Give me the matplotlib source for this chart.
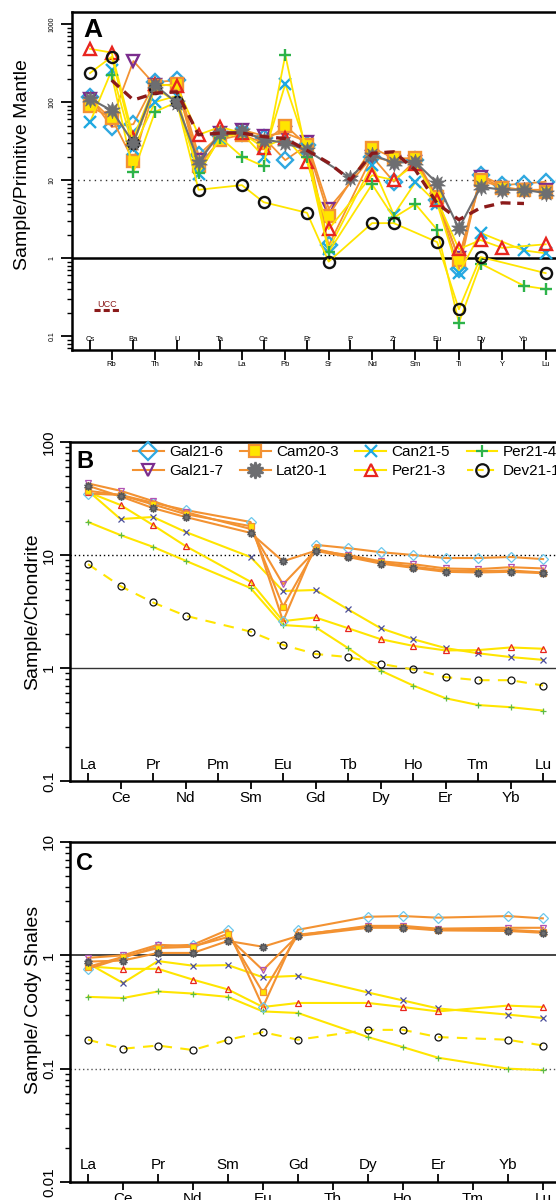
import numpy as np
import matplotlib.pyplot as plt
from matplotlib.lines import Line2D
from matplotlib.ticker import LogLocator, NullFormatter, FuncFormatter

plt.rcParams['font.family'] = ['Liberation Sans', 'DejaVu Sans']

nan = np.nan

# ---- A: primitive mantle normalised ----
pm_elements = ['Cs', 'Rb', 'Ba', 'Th', 'U', 'Nb', 'Ta', 'La', 'Ce', 'Pb', 'Pr',
               'Sr', 'P', 'Nd', 'Zr', 'Sm', 'Eu', 'Ti', 'Dy', 'Y', 'Yb', 'Lu']
pm_gal21_6 = [115, 48, 52, 180, 190, 21, 38, 40, 35, 18, 28, 1.45, nan, 20, 9.5, 18, 5.5, 0.72, 11.5, 8.6, 9.0, 9.5]
pm_gal21_7 = [110, 60, 335, 165, 165, 18, 40, 44, 37, 40, 31, 4.3, nan, 20, 17, 17, 5.5, 1.0, 11, 8, 7.5, 7.5]
pm_cam20_3 = [88, 62, 17.5, 160, 170, 15, 33, 38, 30, 50, 28, 3.5, nan, 26, 19, 19, 6, 0.95, 10, 8, 7.5, 7.0]
pm_lat20_1 = [110, 78, 30, 165, 97, 17, 40, 42, 33, 30, 24, nan, 10.6, 21, 16.7, 17, 9.1, 2.4, 8.2, 7.5, 7.5, 6.8]
pm_can21_5 = [55, 255, 25, 100, 120, 12, 35, 40, 20, 170, 25, 1.3, nan, 15.6, 3.6, 9.4, 5.0, 0.64, 2.1, nan, 1.25, 1.15]
pm_per21_3 = [480, 430, 35, 170, 160, 38, 48, 40, 26, 35, 17, 2.35, nan, 11.5, 10, 16, 5.5, 1.3, 1.7, 1.35, nan, 1.5]
pm_per21_4 = [nan, 220, 12.6, 75, 100, 12.3, 35, 20, 15, 400, 20, 1.2, nan, 8.8, 3.3, 4.9, 2.3, 0.148, 0.85, nan, 0.44, 0.40]
pm_dev21_1 = [235, 380, 30, 150, 100, 7.5, nan, 8.6, 5.2, nan, 3.8, 0.9, nan, 2.8, 2.8, nan, 1.6, 0.22, 1.03, nan, nan, 0.64]
pm_ucc = [nan, 190, 106, 130, 135, 38, 40, 40, 36, 34, 24, 16.6, 10, 22, 23, 13.4, 5.0, 3.1, 4.4, 5.1, 5.0, nan]

# ---- B: chondrite normalised ----
chon_elements = ['La', 'Ce', 'Pr', 'Nd', 'Pm', 'Sm', 'Eu', 'Gd', 'Tb', 'Dy', 'Ho', 'Er', 'Tm', 'Yb', 'Lu']
chon_gal21_6 = [35, 34, 29, 25, nan, 19.6, 2.6, 12.3, 11.5, 10.6, 10, 9.4, 9.4, 9.6, 9.2]
chon_gal21_7 = [43, 37, 30, 24, nan, 17, 5.5, 11, 10, 8.8, 8.3, 7.6, 7.5, 7.8, 7.6]
chon_cam20_3 = [37, 34, 28, 23, nan, 18, 3.5, 11.3, 9.8, 8.6, 7.9, 7.3, 7.2, 7.3, 7.0]
chon_lat20_1 = [41, 33, 26, 21.7, nan, 15.7, 8.8, 10.9, 9.6, 8.4, 7.7, 7.1, 7.0, 7.1, 6.9]
chon_can21_5 = [37, 20.8, 21.7, 16, nan, 9.6, 4.8, 4.9, 3.3, 2.25, 1.8, 1.5, 1.35, 1.25, 1.18]
chon_per21_3 = [36, 27.7, 18.4, 12, nan, 5.8, 2.6, 2.8, 2.25, 1.8, 1.57, 1.43, 1.44, 1.52, 1.48]
chon_per21_4 = [19.6, 15, 11.8, 8.9, nan, 5.1, 2.4, 2.3, 1.5, 0.95, 0.70, 0.54, 0.47, 0.45, 0.42]
chon_dev21_1 = [8.3, 5.3, 3.8, 2.9, nan, 2.1, 1.6, 1.33, 1.25, 1.09, 0.97, 0.83, 0.78, 0.78, 0.70]

# ---- C: Cody shale normalised ----
shale_elements = ['La', 'Ce', 'Pr', 'Nd', 'Sm', 'Eu', 'Gd', 'Tb', 'Dy', 'Ho', 'Er', 'Tm', 'Yb', 'Lu']
shale_gal21_6 = [0.76, 0.95, 1.2, 1.24, 1.68, 0.35, 1.68, nan, 2.19, 2.22, 2.15, nan, 2.22, 2.12]
shale_gal21_7 = [0.95, 1.0, 1.24, 1.2, 1.45, 0.74, 1.5, nan, 1.82, 1.82, 1.72, nan, 1.75, 1.75]
shale_cam20_3 = [0.79, 0.97, 1.16, 1.19, 1.55, 0.47, 1.52, nan, 1.78, 1.78, 1.68, nan, 1.68, 1.62]
shale_lat20_1 = [0.88, 0.9, 1.05, 1.05, 1.34, 1.19, 1.48, nan, 1.75, 1.75, 1.66, nan, 1.64, 1.58]
shale_can21_5 = [0.85, 0.57, 0.89, 0.81, 0.82, 0.64, 0.66, nan, 0.47, 0.40, 0.34, nan, 0.30, 0.28]
shale_per21_3 = [0.8, 0.76, 0.76, 0.61, 0.50, 0.35, 0.38, nan, 0.38, 0.35, 0.32, nan, 0.36, 0.35]
shale_per21_4 = [0.43, 0.42, 0.48, 0.46, 0.43, 0.32, 0.31, nan, 0.19, 0.155, 0.125, nan, 0.10, 0.097]
shale_dev21_1 = [0.18, 0.15, 0.16, 0.146, 0.18, 0.21, 0.18, nan, 0.22, 0.22, 0.19, nan, 0.18, 0.16]

samples = ['Gal21-6', 'Gal21-7', 'Cam20-3', 'Lat20-1', 'Can21-5', 'Per21-3', 'Per21-4', 'Dev21-1']

ORANGE = '#F39232'
YELLOW = '#FFE500'
# marker / line look for each sample: line colour, linestyle, marker, face, edge
style = {
    'Gal21-6': (ORANGE, '-', 'D', 'none', '#2FA8E0'),
    'Gal21-7': (ORANGE, '-', 'v', 'none', '#7B2D8E'),
    'Cam20-3': (ORANGE, '-', 's', '#FFE500', '#F39232'),
    'Lat20-1': (ORANGE, '-', (10, 1, 0), '#6D6E71', '#6D6E71'),
    'Can21-5': (YELLOW, '-', 'x', 'none', '#1FA9E1'),
    'Per21-3': (YELLOW, '-', '^', 'none', '#E8251F'),
    'Per21-4': (YELLOW, '-', '+', 'none', '#2DB34A'),
    'Dev21-1': (YELLOW, '--', 'o', 'none', '#111111'),
}
small_edge = {'Gal21-6': '#6CC8EC', 'Gal21-7': '#B054B4', 'Can21-5': '#4B4E9A',
              'Lat20-1': '#55565A', 'Per21-4': '#5DBB46'}


def draw(ax, vals, name, ms, mew, lw, ls=None, lcolor=None, z=2):
    y = np.array(vals, dtype=float)
    x = np.arange(len(y))
    ok = ~np.isnan(y)
    col, sls, mk, mfc, mec = style[name]
    ax.plot(x[ok], y[ok], color=lcolor or col, ls=ls or sls, lw=lw, marker=mk,
            ms=ms, mfc=mfc, mec=mec, mew=mew, zorder=z)


def setup(ax, labels, fs, inside_y, tick_len, ylims, yfs, ypad):
    n = len(labels)
    idx = np.arange(n)
    ax.set_yscale('log')
    ax.set_ylim(*ylims)
    ax.set_xticks(idx[1::2])
    ax.set_xticklabels(labels[1::2], fontsize=fs)
    ax.set_xticks(idx[0::2], minor=True)
    ax.tick_params(axis='x', which='major', direction='out', length=tick_len,
                   width=1.3, pad=1)
    ax.tick_params(axis='x', which='minor', direction='in', length=tick_len,
                   width=1.3, labelbottom=False)
    for i in idx[0::2]:
        ax.text(i, inside_y, labels[i], transform=ax.get_xaxis_transform(),
                ha='center', va='bottom', fontsize=fs)
    ax.yaxis.set_major_locator(LogLocator(base=10, numticks=10))
    ax.yaxis.set_major_formatter(FuncFormatter(lambda v, p: f'{v:g}'))
    ax.yaxis.set_minor_locator(LogLocator(base=10, subs=np.arange(2, 10), numticks=20))
    ax.yaxis.set_minor_formatter(NullFormatter())
    ax.tick_params(axis='y', which='major', direction='out', length=tick_len + 1,
                   width=1.3, labelsize=yfs, labelrotation=90, pad=ypad)
    ax.tick_params(axis='y', which='minor', direction='out', length=tick_len * 0.55,
                   width=1.0)
    for lab in ax.get_yticklabels():
        lab.set_va('center')
    for s in ['left', 'bottom', 'top']:
        ax.spines[s].set_linewidth(1.8)
    ax.spines['right'].set_visible(False)


fig = plt.figure(figsize=(5.56, 12), dpi=100)

# ------------------------ panel A ------------------------
ax_a = fig.add_axes([72 / 556, 1 - 350 / 1200, 488 / 556, 338 / 1200])
ax_a.set_xlim(-0.83, 21.66)
ax_a.axhline(10, color='#333333', ls=(0, (1, 3)), lw=1.0, zorder=1)
ax_a.axhline(1, color='black', lw=1.8, zorder=1)
pm_sets = [pm_gal21_6, pm_gal21_7, pm_cam20_3, pm_lat20_1,
           pm_can21_5, pm_per21_3, pm_per21_4, pm_dev21_1]
for name, vals in zip(samples, pm_sets):
    if name == 'Lat20-1':
        continue
    draw(ax_a, vals, name, ms=8, mew=1.7, lw=1.3, ls='-')
draw(ax_a, pm_lat20_1, 'Lat20-1', ms=12, mew=0.5, lw=1.5, ls='-', lcolor='#6D6E71', z=3)
y = np.array(pm_ucc, float)
ok = ~np.isnan(y)
ax_a.plot(np.arange(len(y))[ok], y[ok], color='#8B1A1A', ls=(0, (3, 2)), lw=2.4, zorder=4)
setup(ax_a, pm_elements, 5.5, 0.022, 7, (10 ** -1.179, 10 ** 3.154), 5, 4)
ax_a.plot([0.045, 0.098], [0.117, 0.117], transform=ax_a.transAxes, color='#8B1A1A',
          ls=(0, (2, 1)), lw=2.2)
ax_a.text(0.071, 0.122, 'UCC', transform=ax_a.transAxes, color='#8B1A1A',
          fontsize=6.5, ha='center', va='bottom')
ax_a.text(0.024, 0.982, 'A', transform=ax_a.transAxes, fontsize=19,
          fontweight='bold', va='top', ha='left')
ax_a.set_ylabel('Sample/Primitive Mantle', fontsize=14)
ax_a.yaxis.set_label_coords(-0.085, 0.55)

# ------------------------ panel B ------------------------
ax_b = fig.add_axes([70 / 556, 1 - 781 / 1200, 490 / 556, 339 / 1200])
ax_b.set_xlim(-0.554, 14.52)
ax_b.axhline(10, color='black', ls=(0, (1, 2)), lw=1.0, zorder=1)
ax_b.axhline(1, color='#333333', lw=1.0, zorder=1)
chon_sets = [chon_gal21_6, chon_gal21_7, chon_cam20_3, chon_lat20_1,
             chon_can21_5, chon_per21_3, chon_per21_4, chon_dev21_1]
shale_sets = [shale_gal21_6, shale_gal21_7, shale_cam20_3, shale_lat20_1,
              shale_can21_5, shale_per21_3, shale_per21_4, shale_dev21_1]


def small_panel(ax, sets):
    order = [4, 5, 6, 7, 0, 1, 2, 3]
    for k in order:
        name = samples[k]
        col, sls, mk, mfc, mec = style[name]
        y = np.array(sets[k], float)
        x = np.arange(len(y))
        ok = ~np.isnan(y)
        ax.plot(x[ok], y[ok], color=col, ls=(0, (5, 4)) if sls == '--' else '-',
                lw=1.5, marker=mk, ms=6 if name == 'Lat20-1' else 5,
                mfc=mfc, mec=small_edge.get(name, mec), mew=0.9, zorder=2)


small_panel(ax_b, chon_sets)
setup(ax_b, chon_elements, 11, 0.028, 6, (0.1, 100), 11, 3)
ax_b.text(0.012, 0.976, 'B', transform=ax_b.transAxes, fontsize=17,
          fontweight='bold', va='top', ha='left')
ax_b.set_ylabel('Sample/Chondrite', fontsize=14)
ax_b.yaxis.set_label_coords(-0.058, 0.5)

handles = []
for name in samples:
    col, sls, mk, mfc, mec = style[name]
    handles.append(Line2D([], [], color=col, ls=(0, (3, 2)) if sls == '--' else '-',
                          lw=1.5, marker=mk, ms=12 if name == 'Lat20-1' else 9,
                          mfc=mfc, mec=mec, mew=1.6))
ax_b.legend(handles, samples, loc='upper left', bbox_to_anchor=(0.129, 0.99),
            ncol=4, frameon=False, fontsize=11, handlelength=2.0,
            handletextpad=0.35, columnspacing=1.1, borderpad=0,
            borderaxespad=0, labelspacing=0.3)

# ------------------------ panel C ------------------------
ax_c = fig.add_axes([70 / 556, 1 - 1182 / 1200, 490 / 556, 340 / 1200])
ax_c.set_xlim(-0.514, 13.49)
ax_c.axhline(1, color='#444444', lw=1.4, zorder=1)
ax_c.axhline(0.1, color='#555555', ls=(0, (1, 2)), lw=1.0, zorder=1)
small_panel(ax_c, shale_sets)
setup(ax_c, shale_elements, 11, 0.028, 6, (0.01, 10), 11, 3)
ax_c.text(0.012, 0.97, 'C', transform=ax_c.transAxes, fontsize=17,
          fontweight='bold', va='top', ha='left')
ax_c.set_ylabel('Sample/ Cody Shales', fontsize=14)
ax_c.yaxis.set_label_coords(-0.058, 0.535)

fig.savefig('out.png', dpi=100)
